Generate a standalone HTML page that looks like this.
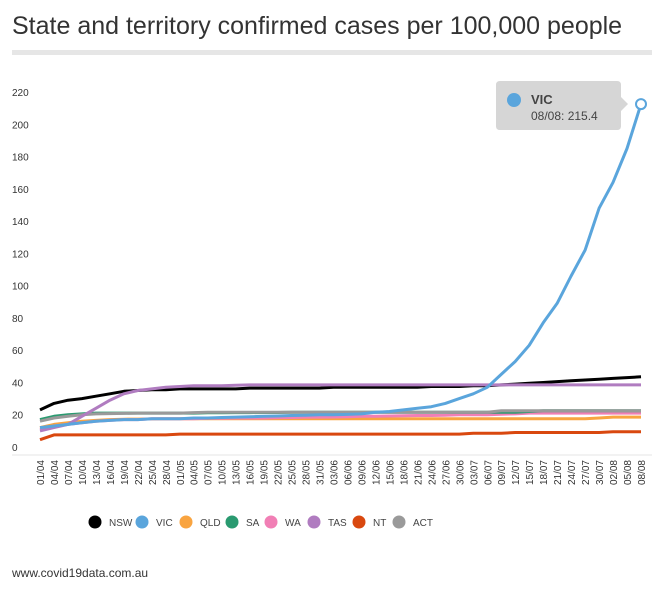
<!DOCTYPE html>
<html><head><meta charset="utf-8"><style>
body{margin:0;background:#fff;font-family:"Liberation Sans",sans-serif;}
#wrap{position:relative;width:660px;height:589px;overflow:hidden}
</style></head><body>
<div id="wrap">
<div style="position:absolute;left:12px;top:12px;font-size:25px;color:#333;letter-spacing:0px">State and territory confirmed cases per 100,000 people</div>
<div style="position:absolute;left:12px;top:50px;width:640px;height:5px;background:#e6e6e6"></div>
<svg id="chart" width="660" height="589" style="position:absolute;left:0;top:0"></svg>
<div style="position:absolute;left:12px;top:566px;font-size:12px;color:#333">www.covid19data.com.au</div>
</div>
<script>
const dates=["01/04","04/04","07/04","10/04","13/04","16/04","19/04","22/04","25/04","28/04","01/05","04/05","07/05","10/05","13/05","16/05","19/05","22/05","25/05","28/05","31/05","03/06","06/06","09/06","12/06","15/06","18/06","21/06","24/06","27/06","30/06","03/07","06/07","09/07","12/07","15/07","18/07","21/07","24/07","27/07","30/07","02/08","05/08","08/08"];
const yTicks=[0,20,40,60,80,100,120,140,160,180,200,220];
const seriesNames=["NSW","VIC","QLD","SA","WA","TAS","NT","ACT"];
const colors=["#000000","#5aa5dc","#f9a440","#2a9a70","#f17fb5","#b07cc0","#d9480f","#9a9a9a"];
const NSW=[23,27,29,30,31.5,33,34.5,35,35.5,35.5,36,36,36,36,36,36.5,36.5,36.5,36.5,36.5,36.5,37,37,37,37,37,37,37,37.5,37.5,37.5,38,38,38.5,39,39.5,40,40.5,41,41.5,42,42.5,43,43.5];
const VIC=[12,13,14,15,16,16.5,17,17,17.5,17.5,17.5,18,18,18.3,18.5,18.7,19,19.2,19.5,19.7,20,20,20.2,20.5,21.5,22,23,24,25,27,30,33,37,45,53,63,77,89,106,122,148,164,185,212.5];
const QLD=[12,14,15,16,16.5,17,17.2,17.3,17.4,17.5,17.5,17.5,17.5,17.5,17.5,17.5,17.5,17.5,17.5,17.5,17.5,17.5,17.5,17.5,17.5,17.5,17.5,17.5,17.5,17.5,17.5,17.5,17.5,17.5,17.5,17.5,17.5,17.5,17.5,17.5,18,18.5,18.5,18.5];
const SA=[17,19,20,20.5,21,21,21,21,21,21,21,21,21.2,21.2,21.3,21.3,21.4,21.4,21.5,21.5,21.5,21.5,21.5,21.5,21.5,21.5,21.5,21.5,21.5,21.5,21.5,21.5,21.5,21.5,21.5,22,22.5,22.5,22.5,22.5,22.5,22.5,22.5,22.5];
const WA=[11,13,14,15,16,16.5,17,17,17.5,17.5,17.5,17.5,17.8,17.8,18,18,18,18.2,18.3,18.5,18.5,18.6,18.7,19,19,19.2,19.4,19.5,19.5,19.7,20,20,20,20.3,20.5,21,21,21,21,21,21,21,21,21];
const TAS=[10,12,14,19,24,29,33,35,36,37,37.5,38,38,38,38.3,38.5,38.5,38.5,38.5,38.5,38.5,38.5,38.5,38.5,38.5,38.5,38.5,38.5,38.5,38.5,38.5,38.5,38.5,38.5,38.5,38.5,38.5,38.5,38.5,38.5,38.5,38.5,38.5,38.5];
const NT=[4.5,7.5,7.5,7.5,7.5,7.5,7.5,7.5,7.5,7.5,8,8,8,8,8,8,8,8,8,8,8,8,8,8,8,8,8,8,8,8,8,8.5,8.5,8.5,9,9,9,9,9,9,9,9.5,9.5,9.5];
const ACT=[16,18,19,20,20.5,20.7,20.8,21,21,21,21,21.3,21.5,21.5,21.5,21.5,21.5,21.5,21.5,21.5,21.5,21.5,21.5,21.5,21.5,21.5,21.5,21.5,21.5,21.5,21.5,21.5,21.5,22.5,22.5,22.5,22.5,22.5,22.5,22.5,22.5,22.5,22.5,22.5];
const seriesData=[NSW,VIC,QLD,SA,WA,TAS,NT,ACT];

const NS="http://www.w3.org/2000/svg";
const svg=document.getElementById('chart');
const x0=40,x1=641,yBase=447,yTop=92;
const xScale=i=>x0+(x1-x0)*i/(dates.length-1);
const yScale=v=>yBase-(yBase-yTop)*v/220;
function mk(t,a){const e=document.createElementNS(NS,t);for(const k in a)e.setAttribute(k,a[k]);svg.appendChild(e);return e;}

yTicks.forEach(v=>{
  const t=mk('text',{x:12,y:yScale(v)+4,'font-size':10,fill:'#333'});
  
  
  t.textContent=v;
});
const ax=mk('line',{x1:12,x2:652,y1:455,y2:455,stroke:'#e6e6e6','stroke-width':1});


dates.forEach((d,i)=>{
  const x=xScale(i);
  const t=mk('text',{x:0,y:0,'font-size':10,fill:'#333','text-anchor':'end',transform:`translate(${x+4},460) rotate(-90)`});
  
  
  t.textContent=d;
});
const order=[6,2,4,3,7,0,5,1];
order.forEach(s=>{
  const pts=seriesData[s].map((v,i)=>xScale(i).toFixed(1)+','+yScale(v).toFixed(1)).join(' ');
  const p=mk('polyline',{points:pts,fill:'none',stroke:colors[s],'stroke-width':3,'stroke-linejoin':'round'});
  
  
});
const li=VIC.length-1;
const mx=xScale(li),my=yScale(VIC[li]);
const c=mk('circle',{cx:mx,cy:my,r:5,fill:'#fff',stroke:colors[1],'stroke-width':2});


const tb=mk('path',{d:`M500 81 H617 Q621 81 621 85 V97 L628 104 L621 111 V126 Q621 130 617 130 H500 Q496 130 496 126 V85 Q496 81 500 81 Z`,fill:'#d6d6d6'});


const td=mk('circle',{cx:514,cy:100,r:7,fill:colors[1]});


const t1=mk('text',{x:531,y:104,'font-size':13,fill:'#444','font-weight':'bold'});


t1.textContent='VIC';
const t2=mk('text',{x:531,y:120,'font-size':12,fill:'#444'});


t2.textContent='08/08: 215.4';
const lc=[95,142,186,232,271,314,359,399];
seriesNames.forEach((n,s)=>{
  const g=mk('circle',{cx:lc[s],cy:522,r:6.5,fill:colors[s]});
  
  
  const t=mk('text',{x:lc[s]+14,y:526,'font-size':10,fill:'#444'});
  
  
  t.textContent=n;
});
</script>
</body></html>
